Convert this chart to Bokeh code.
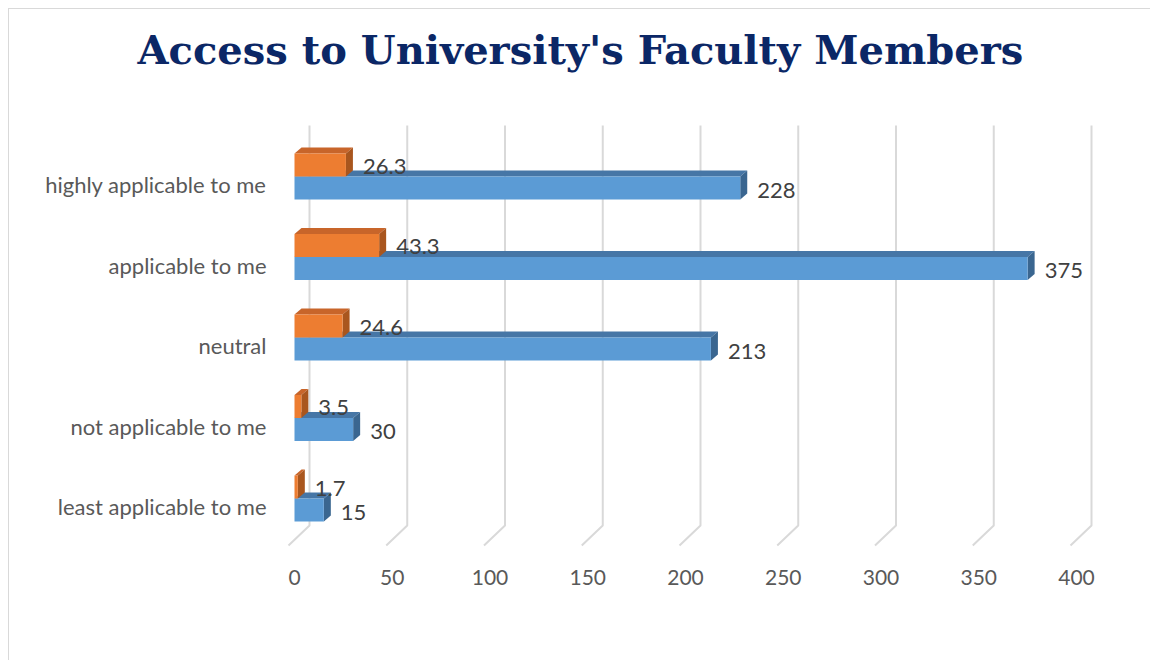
from bokeh.plotting import figure
from bokeh.layouts import column
from bokeh.models import Range1d, FixedTicker, Legend, LegendItem, Title
from bokeh.core.properties import value
from bokeh.embed import file_html
from bokeh.resources import INLINE

# ---------------- data ----------------
categories = ["highly applicable to me", "applicable to me", "neutral",
              "not applicable to me", "least applicable to me"]
frequency = [228, 375, 213, 30, 15]
percent = [26.3, 43.3, 24.6, 3.5, 1.7]
x_ticks = [0, 50, 100, 150, 200, 250, 300, 350, 400]
series = ["Percent", "Frequency"]
title_text = "Access to University's Faculty Members"

# ---------------- geometry (figure px) ----------------
PXX = 1.955          # px per value unit
PXY = 80.5           # px per category row
FL, FR = 271, 1101   # frame left/right
FT, FB = 106, 551    # frame top/bottom
ZX, ROW0 = 285, 497  # px of value 0 / row 0 label
RIGHT, BOTTOM = 40, 45
WTOT = FR + RIGHT

x0 = (FL - ZX) / PXX
x1 = (FR - ZX) / PXX
y0 = (ROW0 - FB) / PXY
y1 = (ROW0 - FT) / PXY

DX = 7 / PXX
DY = 6 / PXY
BH = 23 / PXY
GOFF = 8 / PXY

n = len(categories)
rows = [n - 1 - i for i in range(n)]

p = figure(frame_width=FR - FL, frame_height=FB - FT, title=None,
           output_backend="svg", toolbar_location=None,
           x_range=Range1d(x0, x1), y_range=Range1d(y0, y1),
           min_border_left=FL, min_border_right=RIGHT,
           min_border_top=FT, min_border_bottom=BOTTOM,
           background_fill_color="white", border_fill_color="white",
           outline_line_color=None)

# spacer between frame and title, then the title itself
p.add_layout(Title(text=" ", text_font_size="1px", standoff=35), "above")
p.add_layout(Title(text=title_text, align="left", offset=128 - FL,
                   text_font="DejaVu Serif", text_font_size="40px",
                   text_font_style="bold", text_color="#0B2766",
                   standoff=10), "above")

# gridlines (3D back wall + floor)
g_top = (ROW0 - 116) / PXY
g_back = (ROW0 - 516) / PXY
g_front = (ROW0 - 536) / PXY
bo = 15 / PXX
fo = -6 / PXX
p.multi_line(xs=[[t + bo, t + bo, t + fo] for t in x_ticks],
             ys=[[g_top, g_back, g_front] for _ in x_ticks],
             line_color="#D9D9D9", line_width=2)

COLORS = {"Frequency": ("#5B9BD5", "#4676A6", "#3A6690"),
          "Percent": ("#ED7D31", "#C8652A", "#A9561E")}


def bars(vals, lo_off, cols):
    front, top, side = cols
    bottoms = [r + GOFF + lo_off for r in rows]
    tops = [b + BH for b in bottoms]
    p.patches(xs=[[0, v, v + DX, DX] for v in vals],
              ys=[[t, t, t + DY, t + DY] for t in tops],
              fill_color=top, line_color=None)
    p.patches(xs=[[v, v, v + DX, v + DX] for v in vals],
              ys=[[b, t, t + DY, b + DY] for b, t in zip(bottoms, tops)],
              fill_color=side, line_color=None)
    p.quad(left=[0] * len(vals), right=vals, bottom=bottoms, top=tops,
           fill_color=front, line_color=None)
    return bottoms


fb = bars(frequency, -BH, COLORS["Frequency"])
pb = bars(percent, 0, COLORS["Percent"])

lab = dict(text_baseline="middle", text_font=value("Lato"),
           text_font_size="22px", text_color="#404040", x_offset=10)
p.text(x=[v + DX for v in frequency], y=[b + BH / 2 for b in fb],
       text=[str(v) for v in frequency], y_offset=2, **lab)
p.text(x=[v + DX for v in percent], y=[b + BH / 2 for b in pb],
       text=[f"{v:g}" for v in percent], y_offset=1, **lab)

# axes
p.xgrid.grid_line_color = None
p.ygrid.grid_line_color = None
p.xaxis.ticker = FixedTicker(ticks=x_ticks)
p.yaxis.ticker = FixedTicker(ticks=rows)
p.yaxis.major_label_overrides = {r: c for r, c in zip(rows, categories)}
for ax in (p.xaxis, p.yaxis):
    ax.axis_line_color = None
    ax.major_tick_line_color = None
    ax.minor_tick_line_color = None
    ax.major_tick_out = 0
    ax.major_tick_in = 0
    ax.minor_tick_out = 0
    ax.major_label_text_font = "Lato"
    ax.major_label_text_color = "#595959"
p.xaxis.major_label_text_font_size = "21px"
p.yaxis.major_label_text_font_size = "22px"
p.xaxis.major_label_standoff = 9
p.yaxis.major_label_standoff = 14

# ---------------- legend strip below the chart ----------------
LH = 55
lf = figure(frame_width=WTOT, frame_height=LH, title=None,
            output_backend="svg", toolbar_location=None,
            x_axis_location=None, y_axis_location=None,
            x_range=Range1d(0, 1), y_range=Range1d(0, 1),
            min_border_left=0, min_border_right=0,
            min_border_top=0, min_border_bottom=0,
            background_fill_color="white", border_fill_color="white",
            outline_line_color=None)
lf.xgrid.grid_line_color = None
lf.ygrid.grid_line_color = None
items = []
for s in series:
    r = lf.quad(left=[], right=[], bottom=[], top=[],
                fill_color=COLORS[s][0], line_color=None)
    items.append(LegendItem(label=s, renderers=[r]))
legend = Legend(items=items, orientation="horizontal", location=(458, 4),
                label_text_font="Lato", label_text_font_size="22px",
                label_text_color="#595959", glyph_width=14, glyph_height=14,
                label_standoff=6, spacing=24, border_line_color=None,
                background_fill_alpha=0, margin=0, padding=10)
lf.add_layout(legend)

layout = column(p, lf, spacing=0,
                styles={"margin-left": "8px", "margin-top": "8px",
                        "border-left": "1px solid #D9D9D9",
                        "border-top": "1px solid #D9D9D9"})

open("out.html", "w").write(file_html(layout, INLINE))
